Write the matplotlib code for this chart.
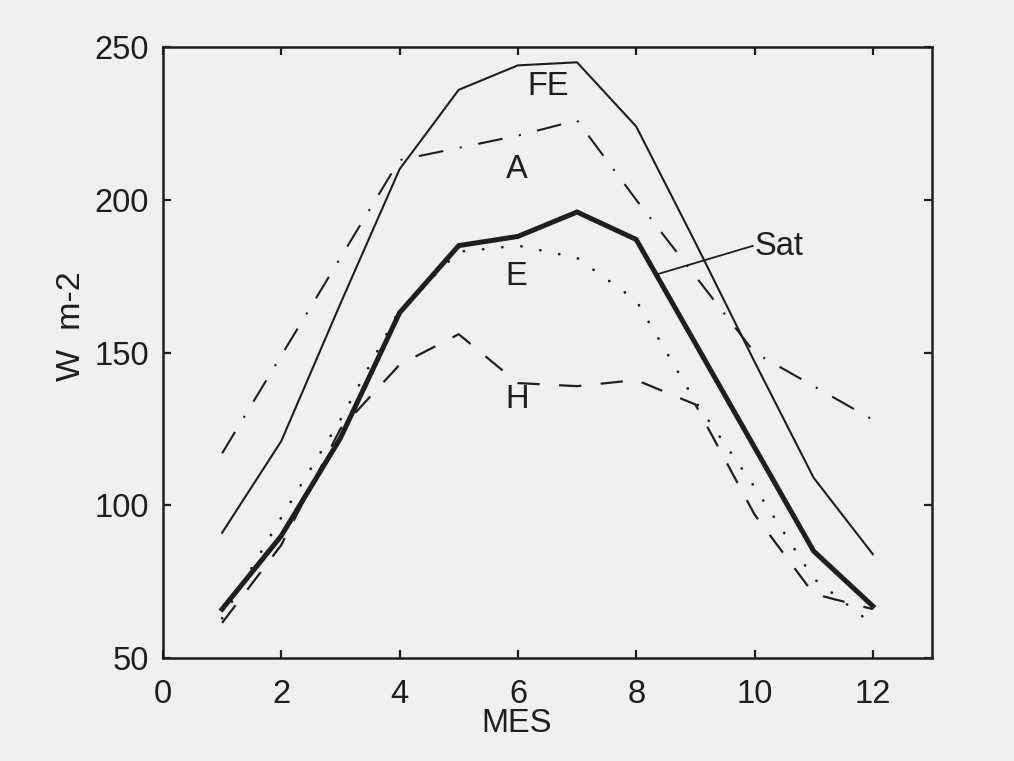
# Monthly radiation curves (FE, A, Sat, E, H)
import numpy as np
import matplotlib
matplotlib.use('Agg')
import matplotlib.pyplot as plt

plt.rcParams['font.family'] = ['Liberation Sans', 'DejaVu Sans']
plt.rcParams['lines.scale_dashes'] = False

# data (W m-2)
meses = np.arange(1, 13)
fe = [91, 121, 166, 210, 236, 244, 245, 224, 186, 147, 109, 84]
a = [117, 149, 181, 213, 217, 221, 226, 200, 175, 150, 139, 128]
sat = [66, 90, 122, 163, 185, 188, 196, 187, 153, 119, 85, 67]
e = [63, 96, 128, 164, 183, 185, 181, 167, 134, 106, 76, 61]
h = [61.5, 87, 125, 146, 156, 140, 139, 141, 133, 97, 71, 66]

# curve labels
etiquetas = ['FE', 'A', 'E', 'H']
etq_x = [6.51, 5.99, 5.98, 5.98]
etq_y = [237, 210, 175, 134.6]

bg = '#f0f0ee'
ink = '#1e1e1e'

fig = plt.figure(figsize=(10.14, 7.61), dpi=100, facecolor=bg)
ax = fig.add_axes([0.1607, 0.1353, 0.7584, 0.8029])
ax.set_facecolor(bg)

ax.plot(meses, fe, color=ink, lw=1.5)
ax.plot(meses, a, color=ink, lw=1.5, linestyle=(0, (18, 12, 1.5, 12)))
ax.plot(meses, sat, color=ink, lw=3.6, solid_joinstyle='miter')
ax.plot(meses, e, color=ink, lw=2.0, linestyle=(0, (0.1, 13.8)),
        dash_capstyle='round')
ax.plot(meses, h, color=ink, lw=1.6, linestyle=(0, (16, 14)))

for t, x, y in zip(etiquetas, etq_x, etq_y):
    ax.text(x, y, t, fontsize=23.5, color=ink, ha='center', va='center')

# leader line for Sat
ax.plot([8.37, 9.97], [175.7, 184.9], color=ink, lw=1.3)
ax.text(10.0, 184.6, 'Sat', fontsize=23.5, color=ink, ha='left', va='center')

ax.set_xlim(0, 13)
ax.set_ylim(50, 250)
ax.set_xticks([0, 2, 4, 6, 8, 10, 12])
ax.set_yticks([50, 100, 150, 200, 250])
ax.tick_params(direction='in', length=6, width=1.6, labelsize=23.5,
               top=True, right=True, colors=ink)
ax.tick_params(axis='x', pad=15)
ax.tick_params(axis='y', pad=10)
for s in ax.spines.values():
    s.set_linewidth(1.8)
    s.set_color(ink)

ax.set_xlabel('MES', fontsize=23.5, color=ink)
ax.xaxis.set_label_coords(0.46, -0.082)
ax.set_ylabel('W  m-2', fontsize=24.5, color=ink)
ax.yaxis.set_label_coords(-0.0988, 0.543)

fig.savefig('out.png', dpi=100, facecolor=bg)
